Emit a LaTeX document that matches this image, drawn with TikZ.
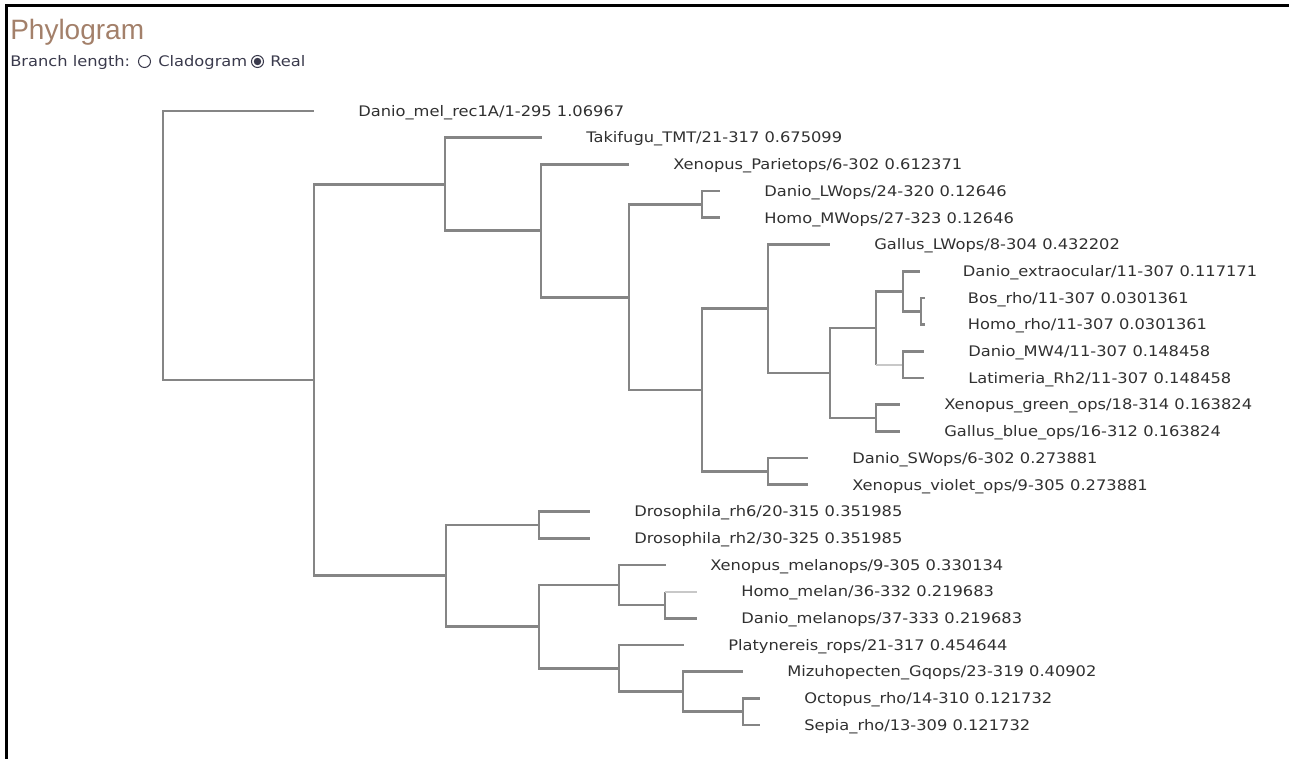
\documentclass[tikz,border=0pt]{standalone}
\usepackage{fontspec}
\setmainfont{DejaVu Sans}
\newfontfamily\lblfont[FakeStretch=1.12]{DejaVu Sans}
\newfontfamily\ttlfont{Liberation Sans}
\usetikzlibrary{positioning}
\definecolor{brgray}{HTML}{858585}
\definecolor{txtgray}{HTML}{303030}
\definecolor{ttlbrown}{HTML}{A3806A}
\definecolor{optslate}{HTML}{3A3A4C}

\begin{document}
\begin{tikzpicture}[x=0.75pt,y=-0.75pt,
    branch/.style={draw=brgray, line width=2pt},
    faintbranch/.style={draw=brgray!45, line width=1.4pt},
    leaf/.style={anchor=west, inner sep=0pt, text height=7.9pt, text depth=0pt, text=txtgray,
        font=\lblfont\fontsize{10.9pt}{12pt}\selectfont},
    opt/.style={anchor=base west, inner sep=0pt, text=optslate, font=\lblfont\fontsize{10.9pt}{12pt}\selectfont},
    radio/.style={circle, draw=optslate, line width=0.75pt, inner sep=0pt, minimum size=9pt}]
    \useasboundingbox (0,0) rectangle (1289,759);
    \draw[line width=2.25pt] (6.5,759) -- (6.5,5.5) -- (1289,5.5);
    \node[anchor=base west, inner sep=0pt, text=ttlbrown, font=\ttlfont\fontsize{21pt}{24pt}\selectfont] (title) at (10,40) {Phylogram};
    \node[opt] (opts) at (10,66.7) {Branch length:};
    \node[radio] (rclado) at (144.5,61.5) {};
    \node[opt] (clado) at (158,66.7) {Cladogram};
    \node[radio] (rreal) at (257.5,61.5) {};
    \fill[optslate] (rreal) circle (2.8pt);
    \node[opt] (real) at (270,66.7) {Real};
    \coordinate (r) at (163,245.5);
    \coordinate (n1) at (314,380);
    \coordinate (n2) at (445,184.2);
    \coordinate (n3) at (541,230.8);
    \coordinate (n4) at (629,297.2);
    \coordinate (n5) at (702,204.45);
    \coordinate (n6) at (702,390);
    \coordinate (n7) at (768,308.7);
    \coordinate (sw) at (768,471.45);
    \coordinate (n8) at (830,373);
    \coordinate (n9) at (876,327.9);
    \coordinate (gb) at (876,418.05);
    \coordinate (ex) at (903,291.2);
    \coordinate (mw) at (903,364.65);
    \coordinate (bh) at (921,311.25);
    \coordinate (n10) at (446,575.7);
    \coordinate (dr) at (539,524.85);
    \coordinate (n11) at (539,626.6);
    \coordinate (xm) at (619,584.9);
    \coordinate (ml) at (665,604.95);
    \coordinate (pl) at (619,668.35);
    \coordinate (mz) at (683,691.7);
    \coordinate (oc) at (743,711.75);
    \coordinate (l1) at (314,111.0);
    \coordinate (l2) at (542,137.7);
    \coordinate (l3) at (629,164.4);
    \coordinate (l4) at (720,191.1);
    \coordinate (l5) at (720,217.8);
    \coordinate (l6) at (830,244.5);
    \coordinate (l7) at (920,271.2);
    \coordinate (l8) at (925,297.9);
    \coordinate (l9) at (925,324.6);
    \coordinate (l10) at (924,351.3);
    \coordinate (l11) at (924,378.0);
    \coordinate (l12) at (900,404.7);
    \coordinate (l13) at (900,431.4);
    \coordinate (l14) at (808,458.1);
    \coordinate (l15) at (808,484.8);
    \coordinate (l16) at (590,511.5);
    \coordinate (l17) at (590,538.2);
    \coordinate (l18) at (666,564.9);
    \coordinate (l19) at (697,591.6);
    \coordinate (l20) at (697,618.3);
    \coordinate (l21) at (684,645.0);
    \coordinate (l22) at (743,671.7);
    \coordinate (l23) at (760,698.4);
    \coordinate (l24) at (760,725.1);
    \draw[branch] (r) |- (l1);
    \draw[branch] (r) |- (n1);
    \draw[branch] (n1) |- (n2);
    \draw[branch] (n1) |- (n10);
    \draw[branch] (n2) |- (l2);
    \draw[branch] (n2) |- (n3);
    \draw[branch] (n3) |- (l3);
    \draw[branch] (n3) |- (n4);
    \draw[branch] (n4) |- (n5);
    \draw[branch] (n4) |- (n6);
    \draw[branch] (n5) |- (l4);
    \draw[branch] (n5) |- (l5);
    \draw[branch] (n6) |- (n7);
    \draw[branch] (n6) |- (sw);
    \draw[branch] (n7) |- (l6);
    \draw[branch] (n7) |- (n8);
    \draw[branch] (n8) |- (n9);
    \draw[branch] (n8) |- (gb);
    \draw[branch] (n9) |- (ex);
    \draw[branch] (n9) -- (n9 |- mw);
    \draw[faintbranch] (n9 |- mw) -- (mw);
    \draw[branch] (ex) |- (l7);
    \draw[branch] (ex) |- (bh);
    \draw[branch] (bh) |- (l8);
    \draw[branch] (bh) |- (l9);
    \draw[branch] (mw) |- (l10);
    \draw[branch] (mw) |- (l11);
    \draw[branch] (gb) |- (l12);
    \draw[branch] (gb) |- (l13);
    \draw[branch] (sw) |- (l14);
    \draw[branch] (sw) |- (l15);
    \draw[branch] (n10) |- (dr);
    \draw[branch] (n10) |- (n11);
    \draw[branch] (dr) |- (l16);
    \draw[branch] (dr) |- (l17);
    \draw[branch] (n11) |- (xm);
    \draw[branch] (n11) |- (pl);
    \draw[branch] (xm) |- (l18);
    \draw[branch] (xm) |- (ml);
    \draw[branch] (ml) -- (ml |- l19);
    \draw[faintbranch] (ml |- l19) -- (l19);
    \draw[branch] (ml) |- (l20);
    \draw[branch] (pl) |- (l21);
    \draw[branch] (pl) |- (mz);
    \draw[branch] (mz) |- (l22);
    \draw[branch] (mz) |- (oc);
    \draw[branch] (oc) |- (l23);
    \draw[branch] (oc) |- (l24);
    \node[leaf, right=33pt of l1] (t1) {Danio\_mel\_rec1A/1-295 1.06967};
    \node[leaf, right=33pt of l2] (t2) {Takifugu\_TMT/21-317 0.675099};
    \node[leaf, right=33pt of l3] (t3) {Xenopus\_Parietops/6-302 0.612371};
    \node[leaf, right=33pt of l4] (t4) {Danio\_LWops/24-320 0.12646};
    \node[leaf, right=33pt of l5] (t5) {Homo\_MWops/27-323 0.12646};
    \node[leaf, right=33pt of l6] (t6) {Gallus\_LWops/8-304 0.432202};
    \node[leaf, right=32pt of l7] (t7) {Danio\_extraocular/11-307 0.117171};
    \node[leaf, right=32pt of l8] (t8) {Bos\_rho/11-307 0.0301361};
    \node[leaf, right=32pt of l9] (t9) {Homo\_rho/11-307 0.0301361};
    \node[leaf, right=33pt of l10] (t10) {Danio\_MW4/11-307 0.148458};
    \node[leaf, right=33pt of l11] (t11) {Latimeria\_Rh2/11-307 0.148458};
    \node[leaf, right=33pt of l12] (t12) {Xenopus\_green\_ops/18-314 0.163824};
    \node[leaf, right=33pt of l13] (t13) {Gallus\_blue\_ops/16-312 0.163824};
    \node[leaf, right=33pt of l14] (t14) {Danio\_SWops/6-302 0.273881};
    \node[leaf, right=33pt of l15] (t15) {Xenopus\_violet\_ops/9-305 0.273881};
    \node[leaf, right=33pt of l16] (t16) {Drosophila\_rh6/20-315 0.351985};
    \node[leaf, right=33pt of l17] (t17) {Drosophila\_rh2/30-325 0.351985};
    \node[leaf, right=33pt of l18] (t18) {Xenopus\_melanops/9-305 0.330134};
    \node[leaf, right=33pt of l19] (t19) {Homo\_melan/36-332 0.219683};
    \node[leaf, right=33pt of l20] (t20) {Danio\_melanops/37-333 0.219683};
    \node[leaf, right=33pt of l21] (t21) {Platynereis\_rops/21-317 0.454644};
    \node[leaf, right=33pt of l22] (t22) {Mizuhopecten\_Gqops/23-319 0.40902};
    \node[leaf, right=33pt of l23] (t23) {Octopus\_rho/14-310 0.121732};
    \node[leaf, right=33pt of l24] (t24) {Sepia\_rho/13-309 0.121732};
\end{tikzpicture}
\end{document}
